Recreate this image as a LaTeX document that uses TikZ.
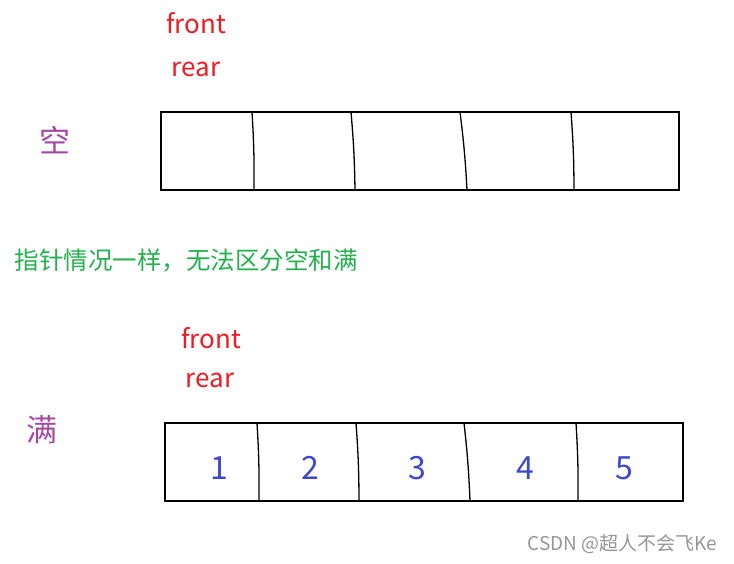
\documentclass[tikz,border=0pt]{standalone}
\usepackage{fontspec}
\setmainfont{Noto Sans CJK SC}
\usetikzlibrary{calc}
\definecolor{ptrred}{RGB}{237,28,36}
\definecolor{tagpurple}{RGB}{163,73,164}
\definecolor{notegreen}{RGB}{34,177,76}
\definecolor{numblue}{RGB}{63,72,204}
\definecolor{markgray}{RGB}{150,150,150}
\tikzstyle{cellbox}=[line width=2.8pt]
\tikzstyle{divider}=[line width=1.3pt]
\tikzstyle{ptr}=[text=ptrred, font=\fontsize{26}{30}\selectfont]
\tikzstyle{tag}=[text=tagpurple, font=\fontsize{31}{35}\selectfont]
\tikzstyle{num}=[text=numblue, font=\fontsize{32}{36}\selectfont]
\newcommand{\cellH}{78}
\newcommand{\queuecorners}[3]{
\coordinate (#1nw) at (#2, #3);
\coordinate (#1se) at (#2+518, #3+\cellH);
}

\begin{document}
\begin{tikzpicture}[x=1pt,y=-1pt]
\useasboundingbox (0,0) rectangle (734,563);
% empty queue
\node[ptr] (efront) at (196,23) {front};
\node[ptr] (erear) at (196,69) {rear};
\node[tag] (empty) at (55,140) {空};
\queuecorners{e}{161}{112}
\draw[cellbox] (enw) rectangle (ese);
\foreach \t/\b [count=\i] in {252/254, 351/355, 460/467, 571/574} {
	\coordinate (et\i) at (\t, 112);
	\coordinate (eb\i) at (\b, 190);
	\draw[divider] (et\i) to[bend left=2] (eb\i);
}
% note
\node[text=notegreen, font=\fontsize{24.5}{28}\selectfont, anchor=west] (note) at (11,260) {指针情况一样，无法区分空和满};
% full queue
\node[ptr] (ffront) at (211,338) {front};
\node[ptr] (frear) at (210,380) {rear};
\node[tag] (full) at (42,430) {满};
\queuecorners{f}{165}{423}
\draw[cellbox] (fnw) rectangle (fse);
\foreach \t/\b [count=\i] in {257/259, 356/359, 464/470, 576/578} {
	\coordinate (ft\i) at (\t, 423);
	\coordinate (fb\i) at (\b, 501);
	\draw[divider] (ft\i) to[bend left=2] (fb\i);
}
\foreach \x [count=\i] in {219,310,417,525,624} {
	\node[num] (n\i) at (\x,468) {\i};
}
\node[text=markgray, font=\fontsize{19}{22}\selectfont, anchor=east] (mark) at (721,544) {CSDN @超人不会飞Ke};
\end{tikzpicture}
\end{document}
